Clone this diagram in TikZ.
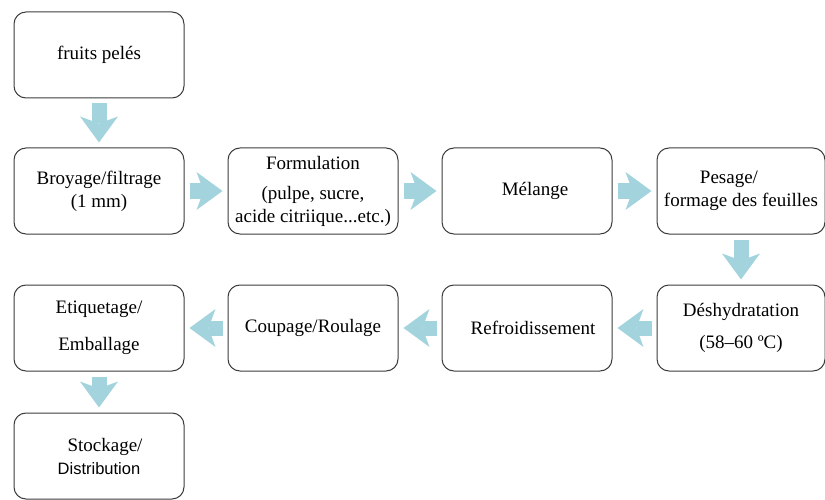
\documentclass[tikz,border=0pt]{standalone}
\usepackage{fontspec}
\setmainfont{Liberation Serif}
\newfontfamily\distfont{Liberation Sans}
\usepackage{tikz}
\usetikzlibrary{arrows.meta,positioning}
\definecolor{flechebleu}{RGB}{163,212,222}
\definecolor{bordgris}{RGB}{60,60,60}

\begin{document}
\begin{tikzpicture}[x=1pt,y=1pt,node distance=214pt,
  font=\fontsize{19}{23}\selectfont]
 \tikzstyle{etape}=[draw=bordgris,line width=1pt,rounded corners=12pt,
   minimum width=170pt,minimum height=86pt,align=center,inner sep=0pt]
 \tikzstyle{fleche}=[color=flechebleu,line width=15pt,
   -{Stealth[length=26pt,width=38pt,inset=7pt,line width=0pt,fill=flechebleu]},
   shorten <=5pt,shorten >=5pt]
 \useasboundingbox (0,0) rectangle (825,-500);

   \node[etape] (fruits) at (99,-55) {fruits pelés};
   \node[etape,node distance=136pt] (broyage) [below of = fruits] {Broyage/filtrage\\(1 mm)};
   \node[etape] (formulation) [right of = broyage] {Formulation\\[7pt](pulpe, sucre,\\acide citriique...etc.)};
   \node[etape] (melange) [right of = formulation] {\hspace*{16pt}Mélange};
   \node[etape,minimum width=168pt,align=left] (pesage) [right of = melange] {\hspace*{36pt}Pesage/\\formage des feuilles};
   \node[etape,node distance=137pt,minimum width=168pt] (deshydratation) [below of = pesage] {Déshydratation\\[9pt](58--60 ºC)};
   \node[etape] (refroid) [left of = deshydratation] {\hspace*{12pt}Refroidissement};
   \node[etape] (coupage) [left of = refroid] {Coupage/Roulage};
   \node[etape] (etiquetage) [left of = coupage] {Etiquetage/\\[14pt]Emballage};
   \node[etape,node distance=128pt] (stockage) [below of = etiquetage] {\hspace*{12pt}Stockage/\\{\distfont\fontsize{16.5}{20}\selectfont Distribution}};

   \path[fleche]
   (fruits) edge (broyage)
   (broyage) edge (formulation)
   (formulation) edge (melange)
   (melange) edge (pesage)
   (pesage) edge (deshydratation)
   (deshydratation) edge (refroid)
   (refroid) edge (coupage)
   (coupage) edge (etiquetage)
   (etiquetage) edge (stockage);

\end{tikzpicture}
\end{document}
